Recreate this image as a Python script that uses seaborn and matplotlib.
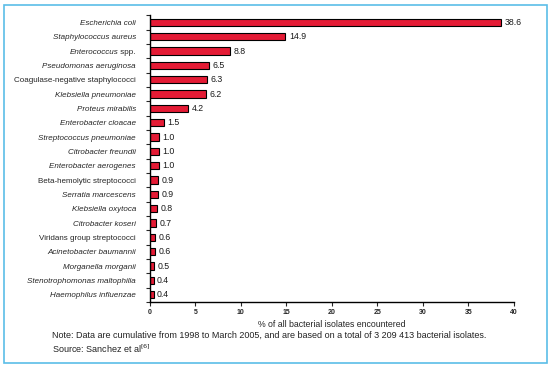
import matplotlib
matplotlib.use("Agg")
import matplotlib.pyplot as plt
import matplotlib.transforms as mtransforms
import seaborn as sns
import pandas as pd
from matplotlib.patches import Rectangle

species = [
    "Escherichia coli", "Staphylococcus aureus", "Enterococcus spp.",
    "Pseudomonas aeruginosa", "Coagulase-negative staphylococci",
    "Klebsiella pneumoniae", "Proteus mirabilis", "Enterobacter cloacae",
    "Streptococcus pneumoniae", "Citrobacter freundii", "Enterobacter aerogenes",
    "Beta-hemolytic streptococci", "Serratia marcescens", "Klebsiella oxytoca",
    "Citrobacter koseri", "Viridans group streptococci", "Acinetobacter baumannii",
    "Morganella morganii", "Stenotrophomonas maltophilia", "Haemophilus influenzae",
]
values = [38.6, 14.9, 8.8, 6.5, 6.3, 6.2, 4.2, 1.5, 1.0, 1.0, 1.0, 0.9, 0.9, 0.8,
          0.7, 0.6, 0.6, 0.5, 0.4, 0.4]
non_italic = ["Coagulase-negative staphylococci", "Beta-hemolytic streptococci",
              "Viridans group streptococci"]
x_ticks = [0, 5, 10, 15, 20, 25, 30, 35, 40]

sns.set_style("white")
plt.rcParams["font.family"] = ["Liberation Sans", "DejaVu Sans"]

df = pd.DataFrame({"species": species, "value": values})

fig = plt.figure(figsize=(5.53, 3.70), dpi=100)
ax = fig.add_axes([0.271, 0.184, 0.658, 0.775])

sns.barplot(data=df, y="species", x="value", orient="h", color="#E41B35",
            edgecolor="black", linewidth=0.8, width=0.5, saturation=1, ax=ax)

ax.set_xlim(0, 40)
ax.set_ylim(len(species) - 0.5, -0.5)
ax.set_xticks(x_ticks)
ax.set_xticklabels([str(t) for t in x_ticks], fontsize=5, fontweight="bold")
ax.set_xlabel("% of all bacterial isolates encountered", fontsize=6.3, labelpad=3)
ax.set_ylabel("")

LAB_FS = 5.8
PAD = 10
labels = ["" if s == "Enterococcus spp." else s for s in species]
ax.set_yticks(range(len(species)))
ax.set_yticklabels(labels, fontsize=LAB_FS)
for lab, s in zip(ax.get_yticklabels(), species):
    if s not in non_italic:
        lab.set_fontstyle("italic")
ax.tick_params(axis="y", which="major", length=0, pad=PAD)
ax.set_yticks([k - 0.5 for k in range(len(species) + 1)], minor=True)
ax.tick_params(axis="y", which="minor", length=3, width=0.8, direction="out", left=True)
ax.tick_params(axis="x", which="major", length=3, width=0.8, direction="out",
               bottom=True, pad=2)

# mixed-style label for Enterococcus spp.
trans = mtransforms.blended_transform_factory(ax.transAxes, ax.transData)
idx = species.index("Enterococcus spp.")
t_spp = ax.text(0, idx, "\u00a0spp.", transform=trans + mtransforms.ScaledTranslation(
    -PAD / 72, 0, fig.dpi_scale_trans), ha="right", va="center_baseline",
    fontsize=LAB_FS)
fig.canvas.draw()
w_px = t_spp.get_window_extent().width
ax.text(0, idx, "Enterococcus", transform=trans + mtransforms.ScaledTranslation(
    -PAD / 72 - w_px / fig.dpi, 0, fig.dpi_scale_trans), ha="right",
    va="center_baseline", fontsize=LAB_FS, fontstyle="italic")

for sp in ["top", "right"]:
    ax.spines[sp].set_visible(False)
for sp in ["left", "bottom"]:
    ax.spines[sp].set_color("black")
    ax.spines[sp].set_linewidth(1.0)

for i, v in enumerate(values):
    ax.annotate(f"{v:.1f}", xy=(v, i), xytext=(2.5, 0), textcoords="offset points",
                va="center", ha="left", fontsize=6.3, color="#1a1a1a")

fig.text(0.094, 0.094,
         "Note: Data are cumulative from 1998 to March 2005, and are based on a total of 3 209 413 bacterial isolates.",
         fontsize=6.5, va="center", ha="left", color="#222222")
fig.text(0.094, 0.056, r"Source: Sanchez et al$^{[6]}$", fontsize=6.5, va="center",
         ha="left", color="#222222")

fig.patches.append(Rectangle((0.008, 0.019), 0.981, 0.968, transform=fig.transFigure,
                             fill=False, edgecolor="#5BBDE8", linewidth=1.2))

fig.savefig("out.png", dpi=100)
